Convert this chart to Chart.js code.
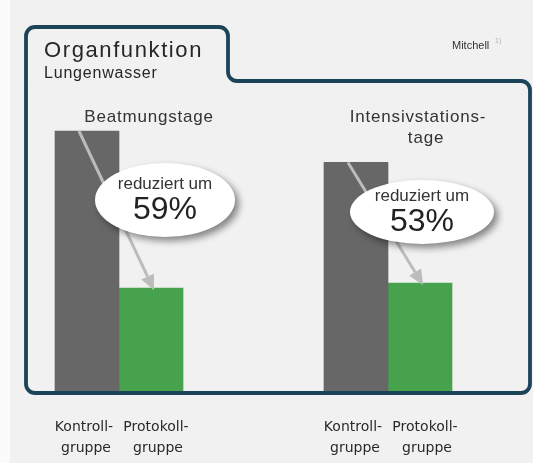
<!DOCTYPE html>
<html>
<head>
<meta charset="utf-8">
<script src="https://cdn.jsdelivr.net/npm/chart.js@4"></script>
<style>
  html, body { margin: 0; padding: 0; background: #f1f1f1; }
  #wrap { width: 533px; height: 463px; }
</style>
</head>
<body>
<div id="wrap"><canvas id="chart" width="533" height="463"></canvas></div>
<script>
// Gruppen (Kategorien) und Werte, relative Balkenhöhe (Kontrollgruppe Beatmung = 100)
const categories = ['Beatmungstage', ['Intensivstations-', 'tage']];
const kontrollWerte = [100, 88];
const protokollWerte = [40, 42];
const reduktion = ['59%', '53%'];
const seriesLabels = [['Kontroll-', 'gruppe'], ['Protokoll-', 'gruppe']];

const GRAU = '#676767';
const GRUEN = '#47a24e';
const RAHMEN = '#1b4459';

// Ellipsen-Position je Gruppe (relativ zur Grenze zwischen den Balken)
const bubbleLayout = [
    { dx: 46, cy: 200, rx: 70, ry: 37 },
    { dx: 34, cy: 212, rx: 72, ry: 32 },
];

function roundedFrame(ctx) {
    const l = 26, t = 27, tabR = 228, step = 81, r = 530, b = 393, rad = 9;
    ctx.beginPath();
    ctx.moveTo(l, t + rad);
    ctx.arcTo(l, t, l + rad, t, rad);
    ctx.lineTo(tabR - rad, t);
    ctx.arcTo(tabR, t, tabR, t + rad, rad);
    ctx.lineTo(tabR, step - rad);
    ctx.arcTo(tabR, step, tabR + rad, step, rad);
    ctx.lineTo(r - rad, step);
    ctx.arcTo(r, step, r, step + rad, rad);
    ctx.lineTo(r, b - rad);
    ctx.arcTo(r, b, r - rad, b, rad);
    ctx.lineTo(l + rad, b);
    ctx.arcTo(l, b, l, b - rad, rad);
    ctx.closePath();
}

function arrow(ctx, x1, y1, x2, y2) {
    const ang = Math.atan2(y2 - y1, x2 - x1);
    const len = 15, half = 7;
    const bx = x2 - Math.cos(ang) * len, by = y2 - Math.sin(ang) * len;
    ctx.save();
    ctx.strokeStyle = '#bcbcbc';
    ctx.fillStyle = '#bcbcbc';
    ctx.lineWidth = 3;
    ctx.beginPath();
    ctx.moveTo(x1, y1);
    ctx.lineTo(bx, by);
    ctx.stroke();
    ctx.beginPath();
    ctx.moveTo(x2, y2);
    ctx.lineTo(bx + Math.sin(ang) * half, by - Math.cos(ang) * half);
    ctx.lineTo(bx - Math.sin(ang) * half, by + Math.cos(ang) * half);
    ctx.closePath();
    ctx.fill();
    ctx.restore();
}

const dekoPlugin = {
    id: 'deko',
    beforeDraw(chart) {
        const ctx = chart.ctx;
        ctx.save();
        ctx.fillStyle = '#f1f1f1';
        ctx.fillRect(0, 0, chart.width, chart.height);
        ctx.fillStyle = '#fbfbfb';
        ctx.fillRect(0, 0, 10, chart.height);
        ctx.restore();
    },
    afterDatasetsDraw(chart) {
        const ctx = chart.ctx;
        ctx.save();
        roundedFrame(ctx);
        ctx.lineWidth = 3.8;
        ctx.strokeStyle = RAHMEN;
        ctx.stroke();
        ctx.restore();
    },
    afterDraw(chart) {
        const ctx = chart.ctx;
        const kMeta = chart.getDatasetMeta(0);
        const pMeta = chart.getDatasetMeta(1);
        const top = chart.chartArea.top;
        ctx.save();
        ctx.textAlign = 'center';
        ctx.textBaseline = 'middle';

        // Kopf
        ctx.textAlign = 'left';
        ctx.fillStyle = '#262626';
        ctx.letterSpacing = '1.6px';
        ctx.font = '22px "Liberation Sans", Arial, sans-serif';
        ctx.fillText('Organfunktion', 44, 51);
        ctx.letterSpacing = '0.8px';
        ctx.font = '16px "Liberation Sans", Arial, sans-serif';
        ctx.fillText('Lungenwasser', 44, 74);
        ctx.letterSpacing = '0px';
        ctx.fillStyle = '#333';
        ctx.font = '11px "Liberation Sans", Arial, sans-serif';
        ctx.fillText('Mitchell', 452, 46);
        ctx.fillStyle = '#b0b0b0';
        ctx.font = '7px "Liberation Sans", Arial, sans-serif';
        ctx.fillText('1)', 495, 41);

        categories.forEach((cat, i) => {
            const k = kMeta.data[i], p = pMeta.data[i];
            const lines = Array.isArray(cat) ? cat : [cat];

            // Gruppentitel
            ctx.textAlign = 'center';
            ctx.fillStyle = '#333';
            ctx.letterSpacing = '0.8px';
            ctx.font = '17px "Liberation Sans", Arial, sans-serif';
            lines.forEach((ln, j) => ctx.fillText(ln, p.x - 2 + j * 8, top - 14 + j * 21));
            ctx.letterSpacing = '0px';

            // Pfeil von Kontroll- zu Protokollbalken
            arrow(ctx, k.x - 8, k.y, p.x + 3, p.y + 2);

            // Ellipse
            const lay = bubbleLayout[i];
            const cx = k.x + k.width / 2 + lay.dx;
            ctx.save();
            ctx.shadowColor = 'rgba(0,0,0,0.45)';
            ctx.shadowBlur = 7;
            ctx.shadowOffsetX = 4;
            ctx.shadowOffsetY = 4;
            ctx.fillStyle = '#ffffff';
            ctx.beginPath();
            ctx.ellipse(cx, lay.cy, lay.rx, lay.ry, 0, 0, Math.PI * 2);
            ctx.fill();
            ctx.restore();
            ctx.fillStyle = '#333';
            ctx.font = '17px "Liberation Sans", Arial, sans-serif';
            ctx.fillText('reduziert um', cx, lay.cy - 16);
            ctx.fillStyle = '#222';
            ctx.font = '32px "Liberation Sans", Arial, sans-serif';
            ctx.fillText(reduktion[i], cx, lay.cy + 10);

            // Balkenbeschriftung unten
            ctx.fillStyle = '#2a2a2a';
            ctx.font = '14px "DejaVu Sans", sans-serif';
            const shift = [-3, 5];
            [k, p].forEach((bar, s) => {
                seriesLabels[s].forEach((ln, j) => ctx.fillText(ln, bar.x + shift[s] + j * 2, 427 + j * 21));
            });
        });
        ctx.restore();
    }
};

new Chart(document.getElementById('chart'), {
    type: 'bar',
    data: {
        labels: categories,
        datasets: [
            {
                label: seriesLabels[0].join(''),
                data: kontrollWerte,
                backgroundColor: GRAU,
                barThickness: 64,
                borderWidth: 0,
                clip: false,
            },
            {
                label: seriesLabels[1].join(''),
                data: protokollWerte,
                backgroundColor: GRUEN,
                barThickness: 64,
                borderWidth: 0,
                clip: false,
            },
        ],
    },
    options: {
        responsive: false,
        animation: false,
        layout: {
            padding: { left: 119, right: 145, top: 131, bottom: 70 },
        },
        scales: {
            x: { display: false, offset: false, grid: { display: false } },
            y: { display: false, min: 0, max: 100 },
        },
        plugins: {
            legend: { display: false },
            tooltip: { enabled: false },
        },
    },
    plugins: [dekoPlugin],
});
</script>
</body>
</html>
